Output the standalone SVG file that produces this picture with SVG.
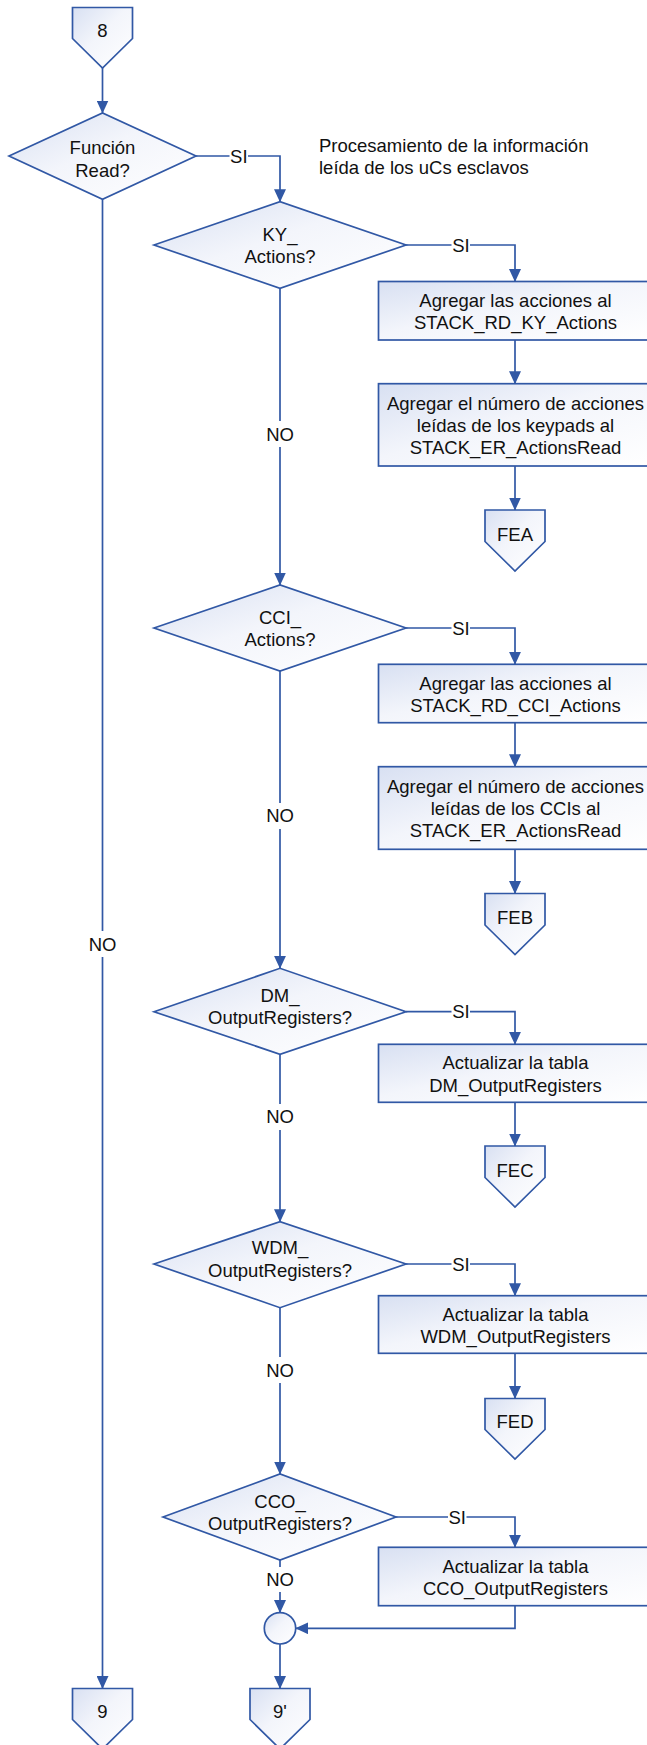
<svg xmlns="http://www.w3.org/2000/svg" width="647" height="1745" viewBox="0 0 647 1745">
  <defs>
    <linearGradient id="shade" x1="0" y1="0" x2="1" y2="1">
      <stop offset="0" stop-color="#d8e0f2"/>
      <stop offset="0.45" stop-color="#f3f5fb"/>
      <stop offset="1" stop-color="#ffffff"/>
    </linearGradient>
    <marker id="arrow" viewBox="0 0 13 12" markerWidth="13" markerHeight="12" refX="12.5" refY="6" orient="auto" markerUnits="userSpaceOnUse">
      <path d="M0,0 L13,6 L0,12 z" fill="#3158a5"/>
    </marker>
    <style>
      .shape { fill: url(#shade); stroke: #3158a5; stroke-width: 1.7; }
      .wire { fill: none; stroke: #3158a5; stroke-width: 1.7; }
      .arr { marker-end: url(#arrow); }
      .gap { fill: #ffffff; stroke: none; }
      text { font-family: "Liberation Sans", Arial, sans-serif; font-size: 18.5px; fill: #111111; }
      .c { text-anchor: middle; }
    </style>
  </defs>

  <rect x="0" y="0" width="647" height="1745" fill="#ffffff"/>

  <!-- connectors -->
  <g id="connectors">
    <path class="wire arr" d="M102.5,68 V113"/>
    <path class="wire arr" d="M196,156 H280 V201.7"/>
    <path class="wire arr" d="M102.5,199.3 V1688.5"/>
    <path class="wire arr" d="M406,245 H515 V281.5"/>
    <path class="wire arr" d="M515,340 V383.7"/>
    <path class="wire arr" d="M515,466 V510"/>
    <path class="wire arr" d="M280,288.3 V585"/>
    <path class="wire arr" d="M406,628 H515 V664.3"/>
    <path class="wire arr" d="M515,722.7 V766.7"/>
    <path class="wire arr" d="M515,849.3 V893.5"/>
    <path class="wire arr" d="M280,671 V968.3"/>
    <path class="wire arr" d="M406,1011.7 H515 V1044.3"/>
    <path class="wire arr" d="M515,1102.3 V1146"/>
    <path class="wire arr" d="M280,1054.3 V1221.7"/>
    <path class="wire arr" d="M406,1264 H515 V1295.7"/>
    <path class="wire arr" d="M515,1353.3 V1398.5"/>
    <path class="wire arr" d="M280,1307.7 V1474"/>
    <path class="wire arr" d="M396,1517 H515 V1547.3"/>
    <path class="wire arr" d="M280,1560 V1612.6"/>
    <path class="wire arr" d="M515,1605.7 V1628.3 H295.8"/>
    <path class="wire arr" d="M280,1644 V1688.5"/>

    <!-- branch labels -->
    <rect class="gap" x="229.5" y="146" width="18.5" height="20"/>
    <text class="c" x="238.8" y="162.5">SI</text>
    <rect class="gap" x="451.5" y="235" width="18.5" height="20"/>
    <text class="c" x="461" y="251.5">SI</text>
    <rect class="gap" x="451.5" y="618" width="18.5" height="20"/>
    <text class="c" x="461" y="634.5">SI</text>
    <rect class="gap" x="451.5" y="1001.7" width="18.5" height="20"/>
    <text class="c" x="461" y="1018.2">SI</text>
    <rect class="gap" x="451.5" y="1254" width="18.5" height="20"/>
    <text class="c" x="461" y="1270.5">SI</text>
    <rect class="gap" x="448" y="1507" width="18.5" height="20"/>
    <text class="c" x="457.2" y="1523.5">SI</text>

    <rect class="gap" x="265" y="421" width="30" height="26"/>
    <text class="c" x="280" y="440.5">NO</text>
    <rect class="gap" x="265" y="803" width="30" height="26"/>
    <text class="c" x="280" y="822">NO</text>
    <rect class="gap" x="265" y="1104" width="30" height="26"/>
    <text class="c" x="280" y="1123">NO</text>
    <rect class="gap" x="265" y="1357" width="30" height="26"/>
    <text class="c" x="280" y="1376.5">NO</text>
    <rect class="gap" x="265" y="1567" width="30" height="25"/>
    <text class="c" x="280" y="1585.8">NO</text>
    <rect class="gap" x="87.5" y="931" width="30" height="26"/>
    <text class="c" x="102.5" y="950.8">NO</text>
  </g>

  <!-- entry point from page 8 -->
  <g id="conn-8">
    <polygon class="shape" points="72.5,7.5 132.5,7.5 132.5,38.5 102.5,68 72.5,38.5"/>
    <text class="c" x="102.5" y="37">8</text>
  </g>

  <g id="dec-read">
    <polygon class="shape" points="9,156 102.5,113 196,156 102.5,199.3"/>
    <text class="c" x="102.5" y="154">Función</text>
    <text class="c" x="102.5" y="177">Read?</text>
  </g>

  <g id="note">
    <text x="319" y="152.3">Procesamiento de la información</text>
    <text x="319" y="174">leída de los uCs esclavos</text>
  </g>

  <!-- keypad actions branch -->
  <g id="dec-ky">
    <polygon class="shape" points="154,245 280,201.7 406,245 280,288.3"/>
    <text class="c" x="280" y="240.7">KY_</text>
    <text class="c" x="280" y="263.3">Actions?</text>
  </g>
  <g id="box-ky-add">
    <rect class="shape" x="378.5" y="281.5" width="273" height="58.5"/>
    <text class="c" x="515.5" y="306.7">Agregar las acciones al</text>
    <text class="c" x="515.5" y="328.7">STACK_RD_KY_Actions</text>
  </g>
  <g id="box-ky-count">
    <rect class="shape" x="378.5" y="383.7" width="273" height="82.3"/>
    <text class="c" x="515.5" y="410">Agregar el número de acciones</text>
    <text class="c" x="515.5" y="432">leídas de los keypads al</text>
    <text class="c" x="515.5" y="454.3">STACK_ER_ActionsRead</text>
  </g>
  <g id="conn-fea">
    <polygon class="shape" points="485,510 545,510 545,541.5 515,571 485,541.5"/>
    <text class="c" x="515" y="540.5">FEA</text>
  </g>

  <!-- CCI actions branch -->
  <g id="dec-cci">
    <polygon class="shape" points="154,628 280,585 406,628 280,671"/>
    <text class="c" x="280" y="624">CCI_</text>
    <text class="c" x="280" y="646.3">Actions?</text>
  </g>
  <g id="box-cci-add">
    <rect class="shape" x="378.5" y="664.3" width="273" height="58.4"/>
    <text class="c" x="515.5" y="689.5">Agregar las acciones al</text>
    <text class="c" x="515.5" y="711.5">STACK_RD_CCI_Actions</text>
  </g>
  <g id="box-cci-count">
    <rect class="shape" x="378.5" y="766.7" width="273" height="82.6"/>
    <text class="c" x="515.5" y="793">Agregar el número de acciones</text>
    <text class="c" x="515.5" y="815">leídas de los CCIs al</text>
    <text class="c" x="515.5" y="837.3">STACK_ER_ActionsRead</text>
  </g>
  <g id="conn-feb">
    <polygon class="shape" points="485,893.5 545,893.5 545,925 515,954.5 485,925"/>
    <text class="c" x="515" y="923.5">FEB</text>
  </g>

  <!-- DM output registers branch -->
  <g id="dec-dm">
    <polygon class="shape" points="154,1011.7 280,968.3 406,1011.7 280,1054.3"/>
    <text class="c" x="280" y="1001.7">DM_</text>
    <text class="c" x="280" y="1024">OutputRegisters?</text>
  </g>
  <g id="box-dm">
    <rect class="shape" x="378.5" y="1044.3" width="273" height="58"/>
    <text class="c" x="515.5" y="1069.3">Actualizar la tabla</text>
    <text class="c" x="515.5" y="1091.5">DM_OutputRegisters</text>
  </g>
  <g id="conn-fec">
    <polygon class="shape" points="485,1146 545,1146 545,1177.5 515,1207 485,1177.5"/>
    <text class="c" x="515" y="1176.5">FEC</text>
  </g>

  <!-- WDM output registers branch -->
  <g id="dec-wdm">
    <polygon class="shape" points="154,1264 280,1221.7 406,1264 280,1307.7"/>
    <text class="c" x="280" y="1254.3">WDM_</text>
    <text class="c" x="280" y="1277">OutputRegisters?</text>
  </g>
  <g id="box-wdm">
    <rect class="shape" x="378.5" y="1295.7" width="273" height="57.6"/>
    <text class="c" x="515.5" y="1321">Actualizar la tabla</text>
    <text class="c" x="515.5" y="1343">WDM_OutputRegisters</text>
  </g>
  <g id="conn-fed">
    <polygon class="shape" points="485,1398.5 545,1398.5 545,1429.5 515,1459 485,1429.5"/>
    <text class="c" x="515" y="1428">FED</text>
  </g>

  <!-- CCO output registers branch -->
  <g id="dec-cco">
    <polygon class="shape" points="163,1517 280,1474 396,1517 280,1560"/>
    <text class="c" x="280" y="1507.7">CCO_</text>
    <text class="c" x="280" y="1529.5">OutputRegisters?</text>
  </g>
  <g id="box-cco">
    <rect class="shape" x="378.5" y="1547.3" width="273" height="58.4"/>
    <text class="c" x="515.5" y="1572.7">Actualizar la tabla</text>
    <text class="c" x="515.5" y="1594.7">CCO_OutputRegisters</text>
  </g>

  <g id="merge">
    <circle class="shape" cx="280" cy="1628.3" r="15.7"/>
  </g>

  <!-- exits to page 9 -->
  <g id="conn-9">
    <polygon class="shape" points="72.5,1688.5 132.5,1688.5 132.5,1719.5 102.5,1749 72.5,1719.5"/>
    <text class="c" x="102.5" y="1717.5">9</text>
  </g>
  <g id="conn-9p">
    <polygon class="shape" points="250,1688.5 310,1688.5 310,1719.5 280,1749 250,1719.5"/>
    <text class="c" x="280" y="1717.5">9'</text>
  </g>
</svg>
